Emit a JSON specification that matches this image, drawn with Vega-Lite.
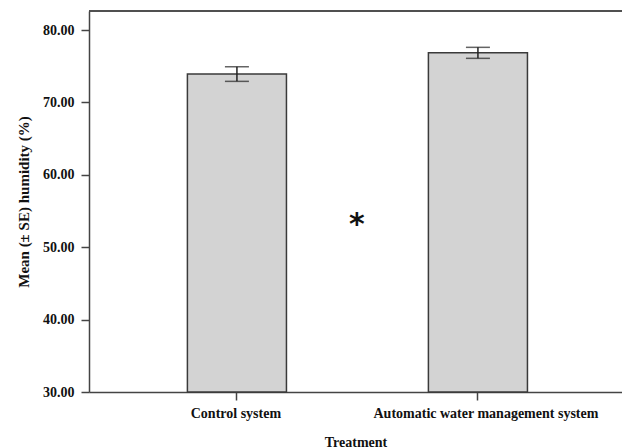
{
  "$schema": "https://vega.github.io/schema/vega-lite/v6.json",
  "width": 533,
  "height": 381,
  "autosize": {"type": "none"},
  "padding": {"left": 89, "top": 11, "right": 0, "bottom": 56},
  "background": "white",
  "config": {
    "view": {"stroke": null},
    "font": "Liberation Serif",
    "axis": {
      "domainColor": "#444444",
      "domainWidth": 1.5,
      "tickColor": "#444444",
      "tickWidth": 1.5,
      "tickSize": 8,
      "grid": false,
      "labelFont": "Liberation Serif",
      "labelFontWeight": "bold",
      "labelFontSize": 14,
      "labelColor": "#111111",
      "labelLimit": 0,
      "titleFont": "Liberation Serif",
      "titleFontWeight": "bold",
      "titleFontSize": 14,
      "titleColor": "#111111"
    }
  },
  "data": {
    "values": [
      {"treatment": "Control system", "mean": 73.92, "lower": 72.91, "upper": 74.93},
      {"treatment": "Automatic water management system", "mean": 76.88, "lower": 76.09, "upper": 77.61}
    ]
  },
  "encoding": {
    "x": {
      "field": "treatment",
      "type": "nominal",
      "sort": null,
      "scale": {"paddingInner": 0.589, "paddingOuter": 0.4003, "align": 0.51},
      "axis": {
        "title": "Treatment",
        "labelAngle": 0,
        "labelPadding": 6,
        "titlePadding": 15,
        "labelOffset": {"condition": {"test": "datum.value === 'Automatic water management system'", "value": 8}, "value": -1}
      }
    }
  },
  "layer": [
    {
      "mark": {"type": "bar", "fill": "#d3d3d3", "stroke": "#3a3a3a", "strokeWidth": 1.5},
      "encoding": {
        "y": {
          "field": "mean",
          "type": "quantitative",
          "scale": {"domain": [30, 82.63], "nice": false, "zero": false},
          "axis": {
            "title": "Mean (± SE) humidity (%)",
            "titleFontSize": 15,
            "values": [30, 40, 50, 60, 70, 80],
            "format": ".2f",
            "labelPadding": 7,
            "titlePadding": 11
          }
        },
        "y2": {"datum": 30}
      }
    },
    {
      "mark": {"type": "rule", "color": "#222222", "strokeWidth": 1.5},
      "encoding": {
        "y": {"field": "lower", "type": "quantitative"},
        "y2": {"field": "upper"}
      }
    },
    {
      "mark": {"type": "tick", "color": "#222222", "thickness": 1.5, "size": 24},
      "encoding": {"y": {"field": "lower", "type": "quantitative"}}
    },
    {
      "mark": {"type": "tick", "color": "#222222", "thickness": 1.5, "size": 24},
      "encoding": {"y": {"field": "upper", "type": "quantitative"}}
    },
    {
      "data": {"values": [{"treatment": "Control system", "label": "*", "pos": 53.07}]},
      "mark": {"type": "text", "font": "DejaVu Sans", "fontWeight": "bold", "fontSize": 30, "dx": 120, "baseline": "middle", "color": "#111111"},
      "encoding": {
        "y": {"field": "pos", "type": "quantitative"},
        "text": {"field": "label"}
      }
    },
    {
      "mark": {"type": "rule", "color": "#444444", "strokeWidth": 1.5},
      "encoding": {"y": {"datum": 82.63}, "x": {"value": 0}, "x2": {"value": 533}}
    }
  ]
}
